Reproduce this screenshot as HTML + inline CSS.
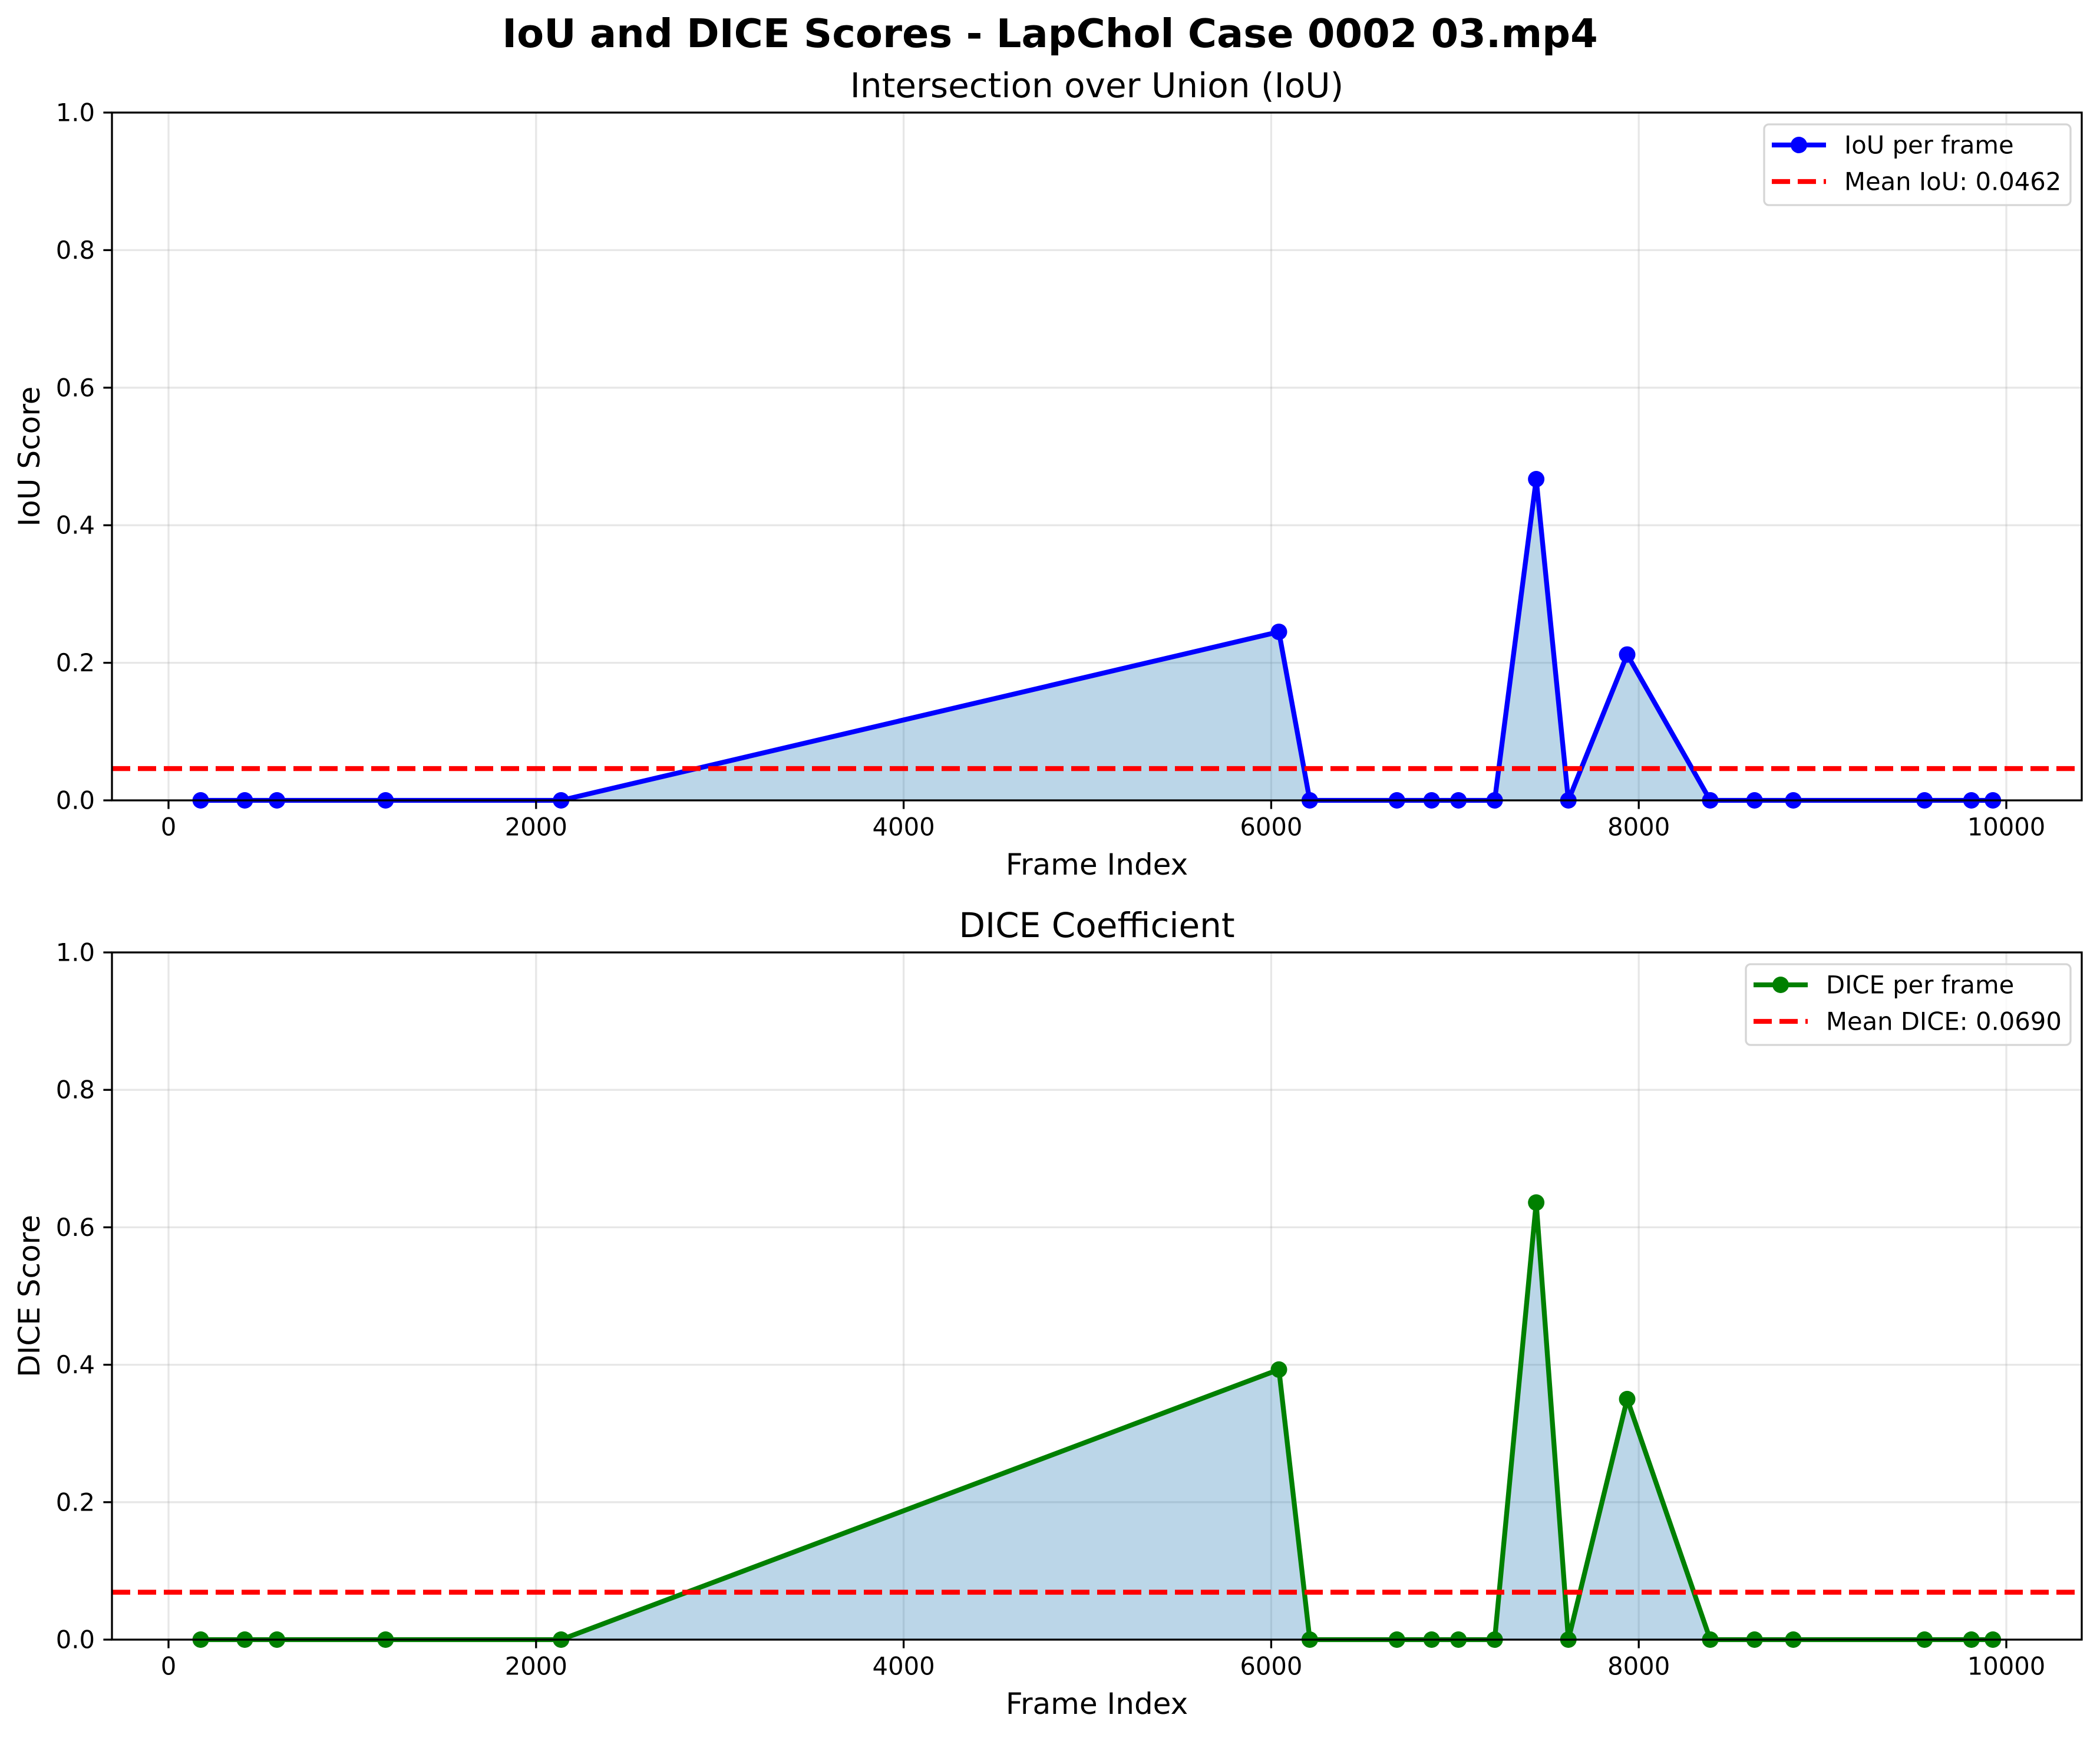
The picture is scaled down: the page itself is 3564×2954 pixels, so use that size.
<!DOCTYPE html>
<html><head><meta charset="utf-8"><style>
html,body{margin:0;padding:0;background:#fff;}
svg text{font-family:"DejaVu Sans","Liberation Sans",sans-serif;}
</style></head><body>
<svg id="fig" width="3564" height="2949" viewBox="0 0 3564 2949" xmlns="http://www.w3.org/2000/svg">
<rect width="3564" height="2949" fill="#fff"/>
<text x="1782" y="57" font-size="67" font-weight="bold" text-anchor="middle" dominant-baseline="central">IoU and DICE Scores - LapChol Case 0002 03.mp4</text>
</svg>
<script>
const frames = [175, 415, 590, 1181, 2136, 6042, 6210, 6684, 6873, 7019, 7216, 7442, 7617, 7937, 8389, 8630, 8841, 9555, 9810, 9927];
const iouValues = [0,0,0,0,0,0.245,0,0,0,0,0,0.467,0,0.212,0,0,0,0,0,0];
const diceValues = [0,0,0,0,0,0.393,0,0,0,0,0,0.636,0,0.350,0,0,0,0,0,0];
const meanIoU = 0.0462;
const meanDice = 0.0690;
const xTicks = [0, 2000, 4000, 6000, 8000, 10000];
const yTicks = [0.0, 0.2, 0.4, 0.6, 0.8, 1.0];

const NS = "http://www.w3.org/2000/svg";
const svg = document.getElementById('fig');
function mk(tag, attrs, parent){
  const e = document.createElementNS(NS, tag);
  for (const k in attrs) e.setAttribute(k, attrs[k]);
  (parent || svg).appendChild(e);
  return e;
}
const L = 190, R = 3533;
const MR = 14;
const xScale = v => 286 + (v / 10000) * (3405 - 286);

function panel(top, bottom, title, ylabel, vals, mean, color, lblLine, lblMean, legW, prefix){
  const yScale = v => bottom - v * (bottom - top);
  const g = mk('g', {});
  
  
  xTicks.forEach(t => {
    const l = mk('line', {x1:xScale(t), x2:xScale(t), y1:top, y2:bottom, stroke:'#b0b0b0', 'stroke-opacity':0.3, 'stroke-width':3.3}, g);
    
    
  });
  yTicks.forEach(t => {
    const l = mk('line', {x1:L, x2:R, y1:yScale(t), y2:yScale(t), stroke:'#b0b0b0', 'stroke-opacity':0.3, 'stroke-width':3.3}, g);
    
    
  });
  let d = 'M' + xScale(frames[0]) + ',' + yScale(0);
  frames.forEach((f, i) => { d += ' L' + xScale(f) + ',' + yScale(vals[i]); });
  d += ' L' + xScale(frames[frames.length-1]) + ',' + yScale(0) + ' Z';
  const fill = mk('path', {d:d, fill:'#1f77b4', 'fill-opacity':0.3}, g);
  
  
  const pts = frames.map((f, i) => xScale(f) + ',' + yScale(vals[i])).join(' ');
  const pl = mk('polyline', {points:pts, fill:'none', stroke:color, 'stroke-width':8.3, 'stroke-linejoin':'round'}, g);
  
  
  frames.forEach((f, i) => {
    const c = mk('circle', {cx:xScale(f), cy:yScale(vals[i]), r:MR, fill:color}, g);
    
    
  });
  const ml = mk('line', {x1:L, x2:R, y1:yScale(mean), y2:yScale(mean), stroke:'#ff0000', 'stroke-width':8.3, 'stroke-dasharray':'31,13'}, g);
  
  
  const sp = mk('rect', {x:L, y:top, width:R-L, height:bottom-top, fill:'none', stroke:'#000', 'stroke-width':3.3}, g);
  
  
  xTicks.forEach(t => {
    const tl = mk('line', {x1:xScale(t), x2:xScale(t), y1:bottom, y2:bottom+14.6, stroke:'#000', 'stroke-width':3.3}, g);
    
    
    const tx = mk('text', {x:xScale(t), y:bottom+45, 'font-size':41.7, 'text-anchor':'middle', 'dominant-baseline':'central'}, g);
    tx.textContent = String(t);
    
    
  });
  yTicks.forEach(t => {
    const tl = mk('line', {x1:L-14.6, x2:L, y1:yScale(t), y2:yScale(t), stroke:'#000', 'stroke-width':3.3}, g);
    
    
    const tx = mk('text', {x:L-29, y:yScale(t), 'font-size':41.7, 'text-anchor':'end', 'dominant-baseline':'central'}, g);
    tx.textContent = t.toFixed(1);
    
    
  });
  const tt = mk('text', {x:(L+R)/2, y:top-46, 'font-size':58, 'text-anchor':'middle', 'dominant-baseline':'central'}, g);
  tt.textContent = title;
  
  
  const xl = mk('text', {x:(L+R)/2, y:bottom+109, 'font-size':50, 'text-anchor':'middle', 'dominant-baseline':'central'}, g);
  xl.textContent = 'Frame Index';
  
  
  const yl = mk('text', {x:0, y:0, 'font-size':50, 'text-anchor':'middle', 'dominant-baseline':'central', transform:'translate(50,' + (top+bottom)/2 + ') rotate(-90)'}, g);
  yl.textContent = ylabel;
  
  
  const lx = 3514 - legW, ly = top + 20;
  const lg = mk('g', {}, g);
  
  
  mk('rect', {x:lx, y:ly, width:legW, height:137, rx:8, fill:'#fff', 'fill-opacity':0.8, stroke:'#d5d5d5', 'stroke-width':3.3}, lg);
  const r1 = ly + 35, r2 = ly + 97;
  const e1 = mk('line', {x1:lx+13, x2:lx+105, y1:r1, y2:r1, stroke:color, 'stroke-width':8.3}, lg);
  
  
  mk('circle', {cx:lx+59, cy:r1, r:MR, fill:color}, lg);
  const t1 = mk('text', {x:lx+136, y:r1, 'font-size':41.7, 'dominant-baseline':'central'}, lg);
  t1.textContent = lblLine;
  
  
  const e2 = mk('line', {x1:lx+13, x2:lx+105, y1:r2, y2:r2, stroke:'#ff0000', 'stroke-width':8.3, 'stroke-dasharray':'31,13'}, lg);
  
  
  const t2 = mk('text', {x:lx+136, y:r2, 'font-size':41.7, 'dominant-baseline':'central'}, lg);
  t2.textContent = lblMean;
  
  
}
panel(191, 1358, 'Intersection over Union (IoU)', 'IoU Score', iouValues, meanIoU, '#0000ff', 'IoU per frame', 'Mean IoU: ' + meanIoU.toFixed(4), 520, 'iou');
panel(1616, 2782, 'DICE Coefficient', 'DICE Score', diceValues, meanDice, '#008000', 'DICE per frame', 'Mean DICE: ' + meanDice.toFixed(4), 551, 'dice');
</script>
</body></html>
